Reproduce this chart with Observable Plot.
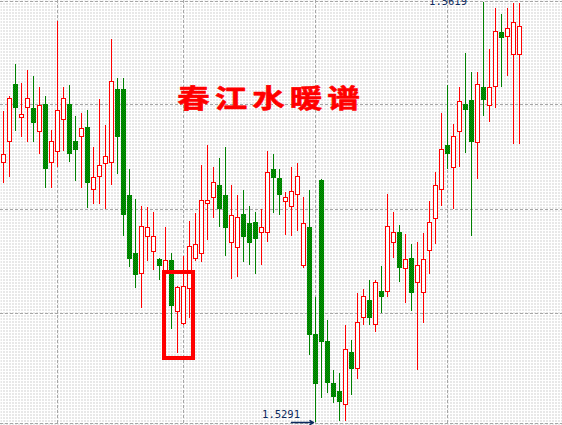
<!DOCTYPE html>
<html>
<head>
<meta charset="utf-8">
<script src="https://cdn.jsdelivr.net/npm/d3@7"></script>
<script src="https://cdn.jsdelivr.net/npm/@observablehq/plot@0.6"></script>
<style>
  html, body { margin: 0; padding: 0; background: #fff; }
  #chart svg { display: block; }
</style>
</head>
<body>
<div id="chart"></div>
<script>
// Chart title
const title = "春江水暖谱";

// Daily bars: open / high / low / close
const opens = [
  1.5494, 1.5510, 1.5555, 1.5529, 1.5537, 1.5536, 1.5518, 1.5539, 1.5494, 1.5502,
  1.5527, 1.5539, 1.5510, 1.5514, 1.5521, 1.5473, 1.5483, 1.5493, 1.5494, 1.5551,
  1.5551, 1.5468, 1.5423, 1.5407, 1.5436, 1.5424, 1.5418, 1.5408, 1.5417, 1.5377,
  1.5368, 1.5395, 1.5419, 1.5423, 1.5462, 1.5466, 1.5476, 1.5468, 1.5431, 1.5427,
  1.5453, 1.5446, 1.5447, 1.5439, 1.5439, 1.5488, 1.5481, 1.5463, 1.5459, 1.5469,
  1.5413, 1.5443, 1.5359, 1.5480, 1.5354, 1.5321, 1.5315, 1.5305, 1.5345, 1.5333,
  1.5373, 1.5386, 1.5367, 1.5393, 1.5393, 1.5431, 1.5439, 1.5411, 1.5419, 1.5400,
  1.5392, 1.5425, 1.5450, 1.5473, 1.5507, 1.5490, 1.5518, 1.5539, 1.5542, 1.5509,
  1.5552, 1.5538, 1.5553, 1.5595, 1.5592, 1.5578, 1.5578
];
const highs = [
  1.5534, 1.5546, 1.5571, 1.5556, 1.5566, 1.5561, 1.5553, 1.5546, 1.5519, 1.5604,
  1.5553, 1.5554, 1.5530, 1.5532, 1.5535, 1.5506, 1.5543, 1.5523, 1.5590, 1.5560,
  1.5560, 1.5489, 1.5465, 1.5460, 1.5459, 1.5455, 1.5419, 1.5443, 1.5423, 1.5397,
  1.5421, 1.5448, 1.5454, 1.5492, 1.5507, 1.5490, 1.5497, 1.5506, 1.5476, 1.5468,
  1.5472, 1.5460, 1.5455, 1.5457, 1.5503, 1.5500, 1.5489, 1.5471, 1.5490, 1.5493,
  1.5467, 1.5472, 1.5389, 1.5481, 1.5371, 1.5332, 1.5329, 1.5367, 1.5355, 1.5392,
  1.5395, 1.5402, 1.5402, 1.5413, 1.5469, 1.5455, 1.5445, 1.5438, 1.5430, 1.5432,
  1.5439, 1.5464, 1.5486, 1.5532, 1.5554, 1.5524, 1.5553, 1.5579, 1.5564, 1.5564,
  1.5619, 1.5582, 1.5614, 1.5610, 1.5614, 1.5618, 1.5618
];
const lows = [
  1.5478, 1.5482, 1.5518, 1.5514, 1.5510, 1.5510, 1.5500, 1.5474, 1.5474, 1.5490,
  1.5503, 1.5494, 1.5479, 1.5474, 1.5458, 1.5461, 1.5461, 1.5457, 1.5476, 1.5485,
  1.5436, 1.5412, 1.5396, 1.5380, 1.5417, 1.5410, 1.5402, 1.5406, 1.5364, 1.5345,
  1.5367, 1.5372, 1.5417, 1.5416, 1.5433, 1.5450, 1.5443, 1.5421, 1.5403, 1.5404,
  1.5416, 1.5414, 1.5407, 1.5414, 1.5432, 1.5454, 1.5453, 1.5437, 1.5436, 1.5440,
  1.5411, 1.5343, 1.5291, 1.5310, 1.5314, 1.5306, 1.5292, 1.5292, 1.5312, 1.5325,
  1.5367, 1.5367, 1.5361, 1.5376, 1.5389, 1.5419, 1.5400, 1.5384, 1.5378, 1.5332,
  1.5368, 1.5407, 1.5430, 1.5460, 1.5489, 1.5457, 1.5490, 1.5501, 1.5436, 1.5481,
  1.5530, 1.5525, 1.5536, 1.5553, 1.5561, 1.5508, 1.5508
];
const closes = [
  1.5500, 1.5544, 1.5537, 1.5531, 1.5544, 1.5525, 1.5538, 1.5489, 1.5510, 1.5534,
  1.5544, 1.5501, 1.5504, 1.5520, 1.5478, 1.5482, 1.5491, 1.5498, 1.5557, 1.5514,
  1.5453, 1.5419, 1.5406, 1.5444, 1.5443, 1.5436, 1.5413, 1.5417, 1.5382, 1.5396,
  1.5397, 1.5428, 1.5430, 1.5464, 1.5464, 1.5478, 1.5458, 1.5443, 1.5452, 1.5451,
  1.5436, 1.5431, 1.5434, 1.5443, 1.5486, 1.5482, 1.5469, 1.5466, 1.5471, 1.5483,
  1.5446, 1.5359, 1.5321, 1.5354, 1.5322, 1.5311, 1.5307, 1.5348, 1.5333, 1.5369,
  1.5389, 1.5373, 1.5400, 1.5389, 1.5444, 1.5439, 1.5412, 1.5418, 1.5392, 1.5413,
  1.5418, 1.5447, 1.5476, 1.5504, 1.5501, 1.5514, 1.5541, 1.5535, 1.5510, 1.5555,
  1.5543, 1.5552, 1.5596, 1.5591, 1.5598, 1.5603, 1.5600
];

// Price grid levels and bar positions of the period separators
const gridPrices = [1.5620, 1.5539, 1.5457, 1.5376, 1.5290];
const gridBars = [9, 30, 52, 74];

// Marked area: bar range and price range
const highlight = [{from: 26.8, to: 31.7, low: 1.5341, high: 1.5408}];

const upColor = "#ff0000";
const downWick = "#008000";
const downFill = "url(#downFill)";
const labelColor = "#0c2a5e";
const gridColor = "#a6a6a6";

const candles = opens.map((open, i) => ({i, open, high: highs[i], low: lows[i], close: closes[i]}));
const rising = candles.filter(d => d.close >= d.open);
const falling = candles.filter(d => d.close < d.open);
const highestBar = candles[d3.maxIndex(candles, d => d.high)];
const lowestBar = candles[d3.minIndex(candles, d => d.low)];
const bodyHalf = 5 / 12; // body half-width in bar units (5px bodies on a 6px step)
const wickHalf = 1 / 12; // 1px wick
const crisp = "crispEdges";

// Filled shapes only, shifted half a pixel so edges land on whole pixels
const wick = (data, fill) => Plot.rect(data, {
  x1: d => d.i - wickHalf, x2: d => d.i + wickHalf, y1: "low", y2: "high",
  dx: 0.5, fill, shapeRendering: crisp
});
const body = (data, fill, inset) => Plot.rect(data, {
  x1: d => d.i - bodyHalf, x2: d => d.i + bodyHalf, y1: "open", y2: "close",
  dx: 0.5, fill, shapeRendering: crisp,
  insetLeft: inset, insetRight: inset, insetTop: inset - 0.5, insetBottom: inset - 0.5
});

const chart = Plot.plot({
  width: 562,
  height: 425,
  margin: 0,
  x: {domain: [-0.5, 93 + 1 / 6], axis: null},
  y: {domain: [1.52887, 1.56206], axis: null},
  style: {background: "#fff", overflow: "hidden"},
  marks: [
    Plot.frame({fill: "url(#dots)", stroke: "none"}),
    Plot.ruleY(gridPrices, {stroke: gridColor, strokeDasharray: "3,2", shapeRendering: crisp}),
    Plot.ruleX(gridBars, {stroke: gridColor, strokeDasharray: "3,2", shapeRendering: crisp}),
    wick(rising, upColor),
    wick(falling, downWick),
    body(rising, upColor, 0),
    body(rising, "#ffffff", 1),
    body(falling, downFill, 0),
    Plot.rect(highlight, {
      x1: "from", x2: "to", y1: "low", y2: "high",
      fill: "none", stroke: "#ff0000", strokeWidth: 4, shapeRendering: crisp
    }),
    Plot.text([title], {
      text: d => d, frameAnchor: "top", dx: -10.5, dy: 89.5,
      fill: "#ff0000", stroke: "#ff0000", strokeWidth: 0.6, fontSize: 26, fontWeight: "bold",
      fontFamily: "'Noto Sans CJK SC', sans-serif"
    }),
    Plot.text([highestBar], {
      x: "i", y: "high", text: d => d.high.toFixed(4),
      textAnchor: "end", dx: -16.5, dy: -1,
      fill: labelColor, fontSize: 10.5, fontFamily: "'DejaVu Sans Mono', monospace"
    }),
    Plot.text([lowestBar], {
      x: "i", y: "low", text: d => d.low.toFixed(4),
      textAnchor: "end", dx: -15.5, dy: -8,
      fill: labelColor, fontSize: 10.5, fontFamily: "'DejaVu Sans Mono', monospace"
    }),
    Plot.arrow([lowestBar], {
      x1: d => d.i - 4, x2: "i", y1: "low", y2: "low",
      stroke: labelColor, headLength: 4, insetEnd: 2
    })
  ]
});

// Fill patterns: dotted chart background and dithered green for falling bodies
const defs = d3.select(chart).insert("defs", ":first-child");
const dots = defs.append("pattern")
  .attr("id", "dots").attr("patternUnits", "userSpaceOnUse")
  .attr("width", 3).attr("height", 3);
dots.append("rect").attr("width", 3).attr("height", 3).attr("fill", "#ffffff");
dots.append("rect").attr("width", 1).attr("height", 1).attr("fill", "#a4a4a4")
  .attr("shape-rendering", "crispEdges");

const green = defs.append("pattern")
  .attr("id", "downFill").attr("patternUnits", "userSpaceOnUse")
  .attr("x", -0.5).attr("width", 2).attr("height", 2);
green.append("rect").attr("width", 2).attr("height", 2).attr("fill", "#00a400")
  .attr("shape-rendering", "crispEdges");
green.append("rect").attr("width", 1).attr("height", 1).attr("fill", "#006a00")
  .attr("shape-rendering", "crispEdges");
green.append("rect").attr("x", 1).attr("y", 1).attr("width", 1).attr("height", 1).attr("fill", "#006a00")
  .attr("shape-rendering", "crispEdges");

// Title glyphs are drawn wide, with extra tracking
d3.select(chart).selectAll("text").filter(function () { return this.textContent === title; })
  .attr("letter-spacing", "4px")
  .each(function () {
    const t = this.getAttribute("transform");
    if (t) {
      this.setAttribute("transform", t + " scale(1.25,1)");
    } else {
      const x = +this.getAttribute("x") || 0, y = +this.getAttribute("y") || 0;
      this.removeAttribute("x");
      this.removeAttribute("y");
      this.setAttribute("transform", `translate(${x},${y}) scale(1.25,1)`);
    }
  });

document.getElementById("chart").append(chart);
</script>
</body>
</html>
